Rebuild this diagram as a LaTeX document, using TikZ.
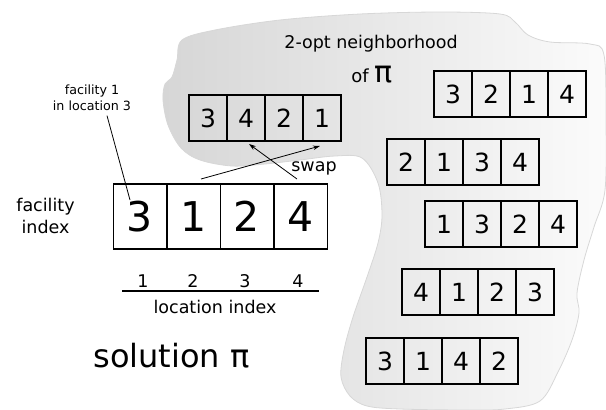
\documentclass[tikz,border=0pt]{standalone}
\usepackage{fontspec}
\setmainfont{DejaVu Sans}
\usetikzlibrary{arrows.meta,calc}
\definecolor{blobL}{RGB}{214,214,214}
\definecolor{blobR}{RGB}{251,251,251}
\definecolor{blobE}{RGB}{215,215,215}
\newcommand{\myfs}[2]{\fontsize{#1}{#2}\selectfont}
\newcommand{\permrow}[9]{%
  \node[#2] (#1a) at (#3,#4) {#6};
  \node[#2] (#1b) at (#3+#5,#4) {#7};
  \node[#2] (#1c) at (#3+2*#5,#4) {#8};
  \node[#2] (#1d) at (#3+3*#5,#4) {#9};
}
\begin{document}
\begin{tikzpicture}[x=1pt,y=-1pt,
  cellS/.style={draw, line width=1.2pt, minimum width=38pt, minimum height=46pt, inner sep=0pt, font=\myfs{25}{30}},
  cellL/.style={draw, line width=1.5pt, minimum width=53.5pt, minimum height=65pt, inner sep=0pt, font=\myfs{41}{48}},
  lbl/.style={font=\myfs{17.5}{22}, inner sep=0pt},
  small/.style={font=\myfs{12.7}{16}, inner sep=0pt, align=center},
  swaparrow/.style={-{Stealth[length=7pt,width=4.5pt]}, line width=0.8pt},
  thinline/.style={line width=0.8pt}]
\useasboundingbox (0,0) rectangle (606,410);
% neighbourhood blob
\shade[draw=blobE, line width=0.8pt, left color=blobL, right color=blobR]
  plot[smooth cycle, tension=0.55] coordinates {
  (182,40) (215,30) (280,20) (360,14) (440,12) (500,14) (515,22) (528,35) (550,42) (590,44)
  (604,55) (606,120) (605,190) (594,227) (584,260) (577,293) (579,313) (572,340) (558,372)
  (540,401) (505,409) (467,410) (400,409) (367,406) (350,396) (341,377) (344,350) (353,317)
  (367,277) (378,243) (382,215) (378,183) (362,158) (335,156) (300,160) (265,164) (232,166)
  (200,160) (181,148) (168,125) (163,100) (165,84) (172,77) (177,60)};
% main solution
\permrow{m}{cellL}{140}{216.5}{53.5}{3}{1}{2}{4}
% neighbours
\permrow{n}{cellS}{208}{118}{38}{3}{4}{2}{1}
\permrow{p}{cellS}{453}{94}{38}{3}{2}{1}{4}
\permrow{q}{cellS}{406}{162}{38}{2}{1}{3}{4}
\permrow{r}{cellS}{444}{224}{38}{1}{3}{2}{4}
\permrow{s}{cellS}{421}{292}{38}{4}{1}{2}{3}
\permrow{t}{cellS}{385}{361}{38}{3}{1}{4}{2}
% texts
\node[lbl, anchor=base] (title) at (371,48) {2-opt neighborhood};
\node[anchor=base, inner sep=0pt, font=\myfs{18}{22}] (ofpi) at (372,82) {of {\myfs{30}{32}π}};
\node[lbl, align=center] (facidx) at (45.5,216) {facility\\index};
\node[small] (faclbl) at (92,98) {facility 1\\in location 3};
\node[lbl, anchor=base] (swaplbl) at (314,171) {swap};
\node[lbl, anchor=base] (l1) at (143,287) {1};
\node[lbl, anchor=base] (l2) at (193,287) {2};
\node[lbl, anchor=base] (l3) at (245,287) {3};
\node[lbl, anchor=base] (l4) at (298,287) {4};
\coordinate (axL) at (122,291);
\coordinate (axR) at (319,291);
\draw[line width=1.2pt] (axL) -- (axR);
\node[lbl, anchor=base] (locidx) at (215,313) {location index};
\node[anchor=base, inner sep=0pt, font=\myfs{32}{36}] (sol) at (171.5,367) {solution π};
% connectors
\coordinate (facend) at (130,200);
\draw[thinline] ([xshift=15pt,yshift=-4.5pt]faclbl.south) -- (facend);
\coordinate (s1a) at (201,179);
\coordinate (s1b) at (320,146);
\coordinate (s2a) at (297,179);
\coordinate (s2b) at (249,144);
\draw[swaparrow] (s1a) -- (s1b);
\draw[swaparrow] (s2a) -- (s2b);
\end{tikzpicture}
\end{document}
